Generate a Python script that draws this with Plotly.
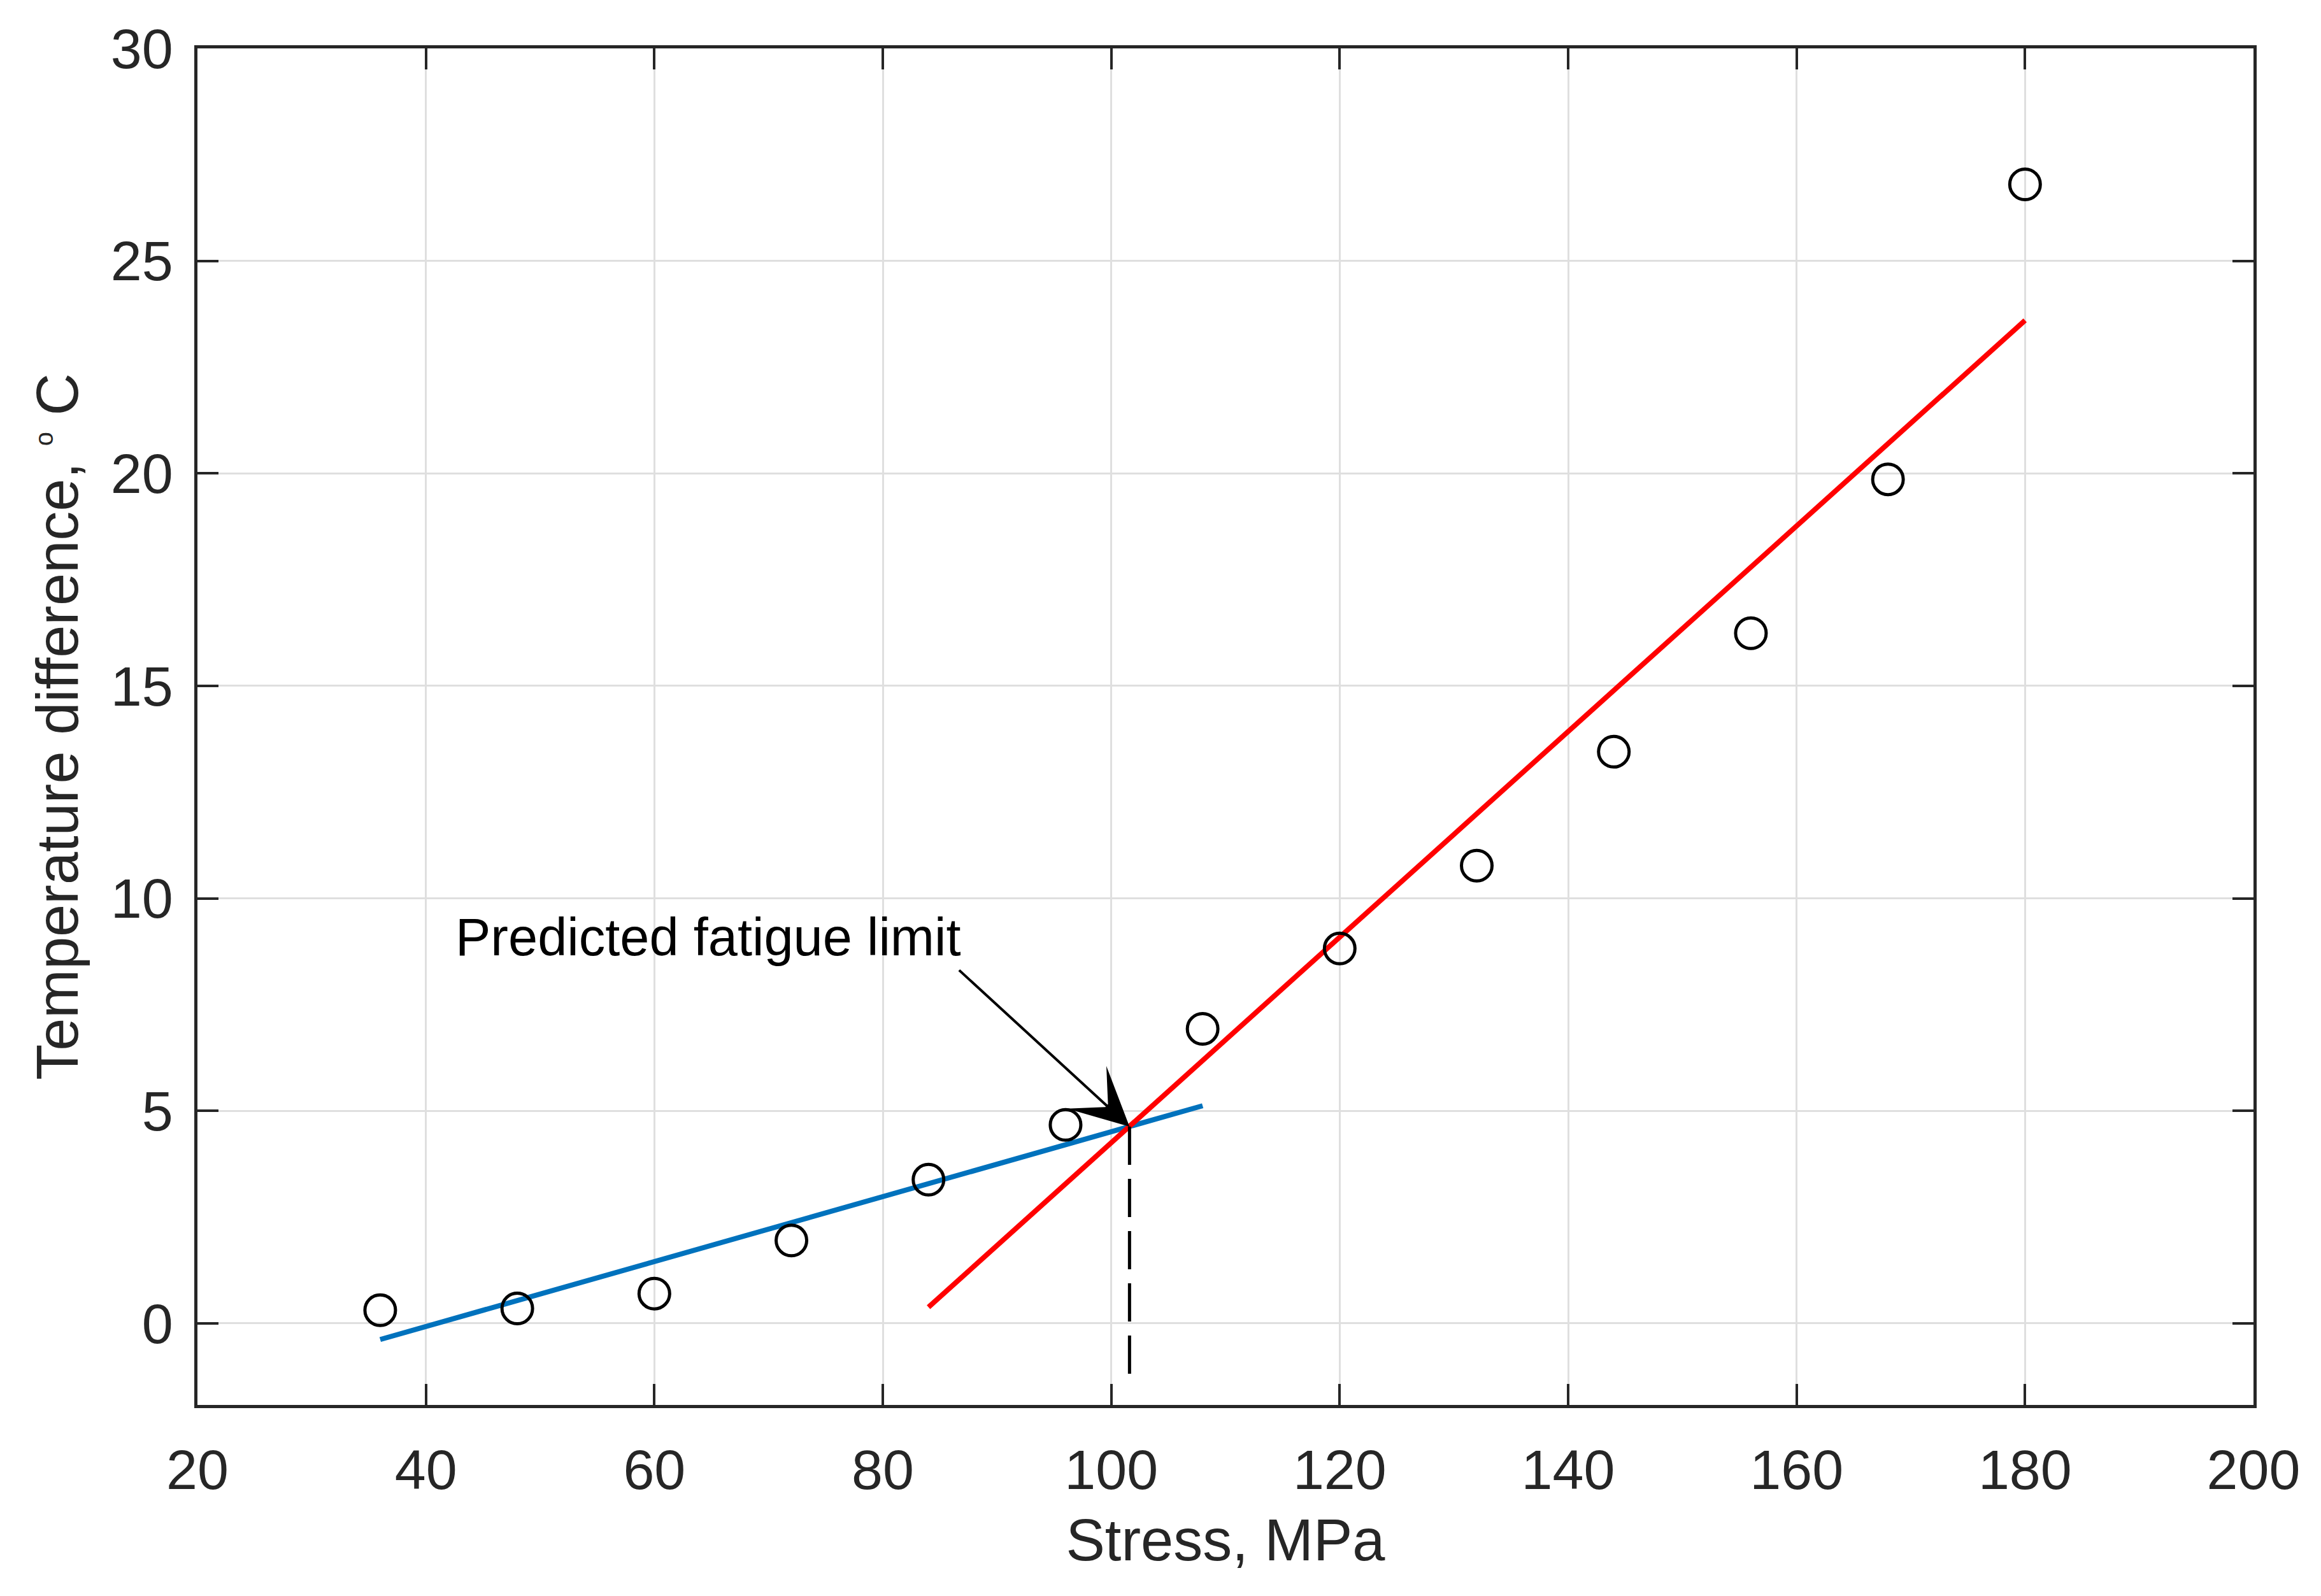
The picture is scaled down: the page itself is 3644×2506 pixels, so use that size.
import plotly.graph_objects as go

# measured points
stress = [36, 48, 60, 72, 84, 96, 108, 120, 132, 144, 156, 168, 180]
temp_diff = [0.31, 0.35, 0.70, 1.95, 3.38, 4.67, 6.93, 8.82, 10.77, 13.45, 16.24, 19.86, 26.8]

# fitted lines
low_fit_x = [36, 108]
low_fit_y = [-0.38, 5.12]
high_fit_x = [84, 180]
high_fit_y = [0.38, 23.6]

# predicted fatigue limit (intersection)
limit_x = [101.6, 101.6]
limit_y = [4.63, -1.5]

font = "Liberation Sans, Arial, Helvetica, sans-serif"
axis_col = "#262626"

fig = go.Figure()
fig.add_trace(go.Scatter(x=low_fit_x, y=low_fit_y, mode="lines",
                         line=dict(color="#0072BD", width=8)))
fig.add_trace(go.Scatter(x=high_fit_x, y=high_fit_y, mode="lines",
                         line=dict(color="#FF0000", width=8)))
fig.add_trace(go.Scatter(x=limit_x, y=limit_y, mode="lines",
                         line=dict(color="black", width=5, dash="60px,22px")))
fig.add_trace(go.Scatter(x=stress, y=temp_diff, mode="markers",
                         marker=dict(symbol="circle-open", size=48, color="black",
                                     line=dict(width=5, color="black"))))

fig.add_annotation(x=64.7, y=9.09, xref="x", yref="y", text="Predicted fatigue limit",
                   showarrow=False, font=dict(family=font, size=83, color="black"))
fig.add_annotation(x=limit_x[0], y=limit_y[0], ax=86.6, ay=8.33, xref="x", yref="y",
                   axref="x", ayref="y", text="", showarrow=True,
                   arrowhead=3, arrowsize=3.8, arrowwidth=4, arrowcolor="black", standoff=0)

axis_common = dict(showline=True, linecolor=axis_col, linewidth=4.5, mirror="ticks",
                   ticks="inside", ticklen=33, tickwidth=4, tickcolor=axis_col,
                   showgrid=True, gridcolor="#dfdfdf", gridwidth=3, zeroline=False,
                   tickfont=dict(family=font, size=88, color=axis_col))

fig.update_xaxes(range=[20, 200], tick0=20, dtick=20, ticklabelstandoff=22,
                 title=dict(text="Stress, MPa", standoff=31,
                            font=dict(family=font, size=92, color=axis_col)),
                 **axis_common)
fig.update_yaxes(range=[-1.92, 30], tick0=0, dtick=5, ticklabelstandoff=16,
                 title=dict(text="Temperature difference, <sup><span style='font-size:40px'>o</span></sup> C",
                            standoff=22, font=dict(family=font, size=92, color=axis_col)),
                 **axis_common)

fig.update_layout(width=3644, height=2506, showlegend=False,
                  plot_bgcolor="white", paper_bgcolor="white",
                  margin=dict(l=302, r=114, t=68, b=308))

fig.write_html("out.html")
